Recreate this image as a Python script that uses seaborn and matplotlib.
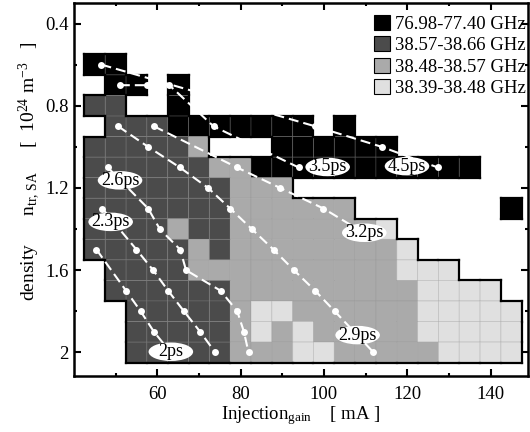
import numpy as np
import pandas as pd
import matplotlib
matplotlib.use("Agg")
import matplotlib.pyplot as plt
import seaborn as sns
from matplotlib.patches import Patch, Ellipse
from matplotlib.collections import LineCollection
from matplotlib.colors import ListedColormap, BoundaryNorm

# Cell centres: gain-section injection current (mA) and SA transparency density (1e24 m^-3)
injection_ma = [45, 50, 55, 60, 65, 70, 75, 80, 85, 90, 95, 100, 105,
                110, 115, 120, 125, 130, 135, 140, 145]
density = [0.6, 0.7, 0.8, 0.9, 1.0, 1.1, 1.2, 1.3, 1.4, 1.5, 1.6, 1.7, 1.8, 1.9, 2.0]

# Repetition-frequency class of every cell (0 = no mode locking)
freq_map = [
    [1, 1, 0, 0, 0, 0, 0, 0, 0, 0, 0, 0, 0, 0, 0, 0, 0, 0, 0, 0, 0],
    [0, 1, 1, 0, 1, 0, 0, 0, 0, 0, 0, 0, 0, 0, 0, 0, 0, 0, 0, 0, 0],
    [2, 2, 0, 0, 1, 0, 0, 0, 0, 0, 0, 0, 0, 0, 0, 0, 0, 0, 0, 0, 0],
    [0, 2, 2, 2, 1, 1, 1, 1, 1, 1, 1, 0, 1, 0, 0, 0, 0, 0, 0, 0, 0],
    [2, 2, 2, 2, 2, 3, 0, 0, 0, 1, 1, 1, 1, 1, 1, 0, 0, 0, 0, 0, 0],
    [2, 2, 2, 2, 2, 2, 3, 3, 1, 1, 1, 1, 1, 1, 1, 1, 1, 1, 1, 0, 0],
    [2, 2, 2, 2, 2, 2, 2, 3, 3, 3, 0, 0, 0, 0, 0, 0, 0, 0, 0, 0, 0],
    [2, 2, 2, 2, 2, 2, 2, 3, 3, 3, 3, 3, 3, 0, 0, 0, 0, 0, 0, 0, 1],
    [2, 2, 2, 2, 3, 2, 2, 3, 3, 3, 3, 3, 3, 3, 4, 0, 0, 0, 0, 0, 0],
    [2, 2, 2, 2, 2, 3, 2, 3, 3, 3, 3, 3, 3, 3, 3, 4, 0, 0, 0, 0, 0],
    [0, 2, 2, 2, 2, 3, 3, 3, 3, 3, 3, 3, 3, 3, 3, 4, 4, 4, 0, 0, 0],
    [0, 2, 2, 2, 2, 2, 2, 3, 3, 3, 3, 3, 3, 3, 3, 3, 4, 4, 4, 4, 0],
    [0, 0, 2, 2, 2, 2, 2, 3, 4, 4, 3, 3, 3, 3, 3, 3, 4, 4, 4, 4, 4],
    [0, 0, 2, 2, 2, 2, 2, 3, 4, 3, 4, 3, 3, 3, 3, 3, 4, 4, 4, 4, 4],
    [0, 0, 2, 2, 2, 2, 2, 3, 3, 3, 4, 4, 3, 3, 3, 3, 3, 4, 4, 4, 4],
]
freq_bands = ["76.98-77.40 GHz", "38.57-38.66 GHz", "38.48-38.57 GHz", "38.39-38.48 GHz"]
band_colors = ["#000000", "#4b4b4b", "#aaaaaa", "#e0e0e0"]

# Constant pulse-width contours
pw_labels = ["2ps", "2.3ps", "2.6ps", "2.9ps", "3.2ps", "3.5ps", "4.5ps"]
pw_current = [
    [45.4, 52.5, 56.0, 59.2, 63.2],
    [46.8, 55.0, 59.0, 62.6, 66.4, 70.3, 73.9],
    [48.1, 57.8, 60.6, 65.5, 66.9, 75.2, 79.2, 80.8, 81.9],
    [50.6, 57.8, 65.4, 72.2, 77.5, 82.7, 87.9, 92.8, 97.9, 102.6, 111.9],
    [59.2, 79.1, 89.5, 99.9, 109.7],
    [51.0, 57.5, 62.9, 73.5, 93.9],
    [46.6, 97.9, 113.9, 127.3],
]
pw_density = [
    [1.5, 1.7, 1.8, 1.9, 2.0],
    [1.3, 1.5, 1.6, 1.7, 1.8, 1.9, 2.0],
    [1.1, 1.3, 1.4, 1.5, 1.6, 1.7, 1.8, 1.9, 2.0],
    [0.9, 1.0, 1.1, 1.2, 1.3, 1.4, 1.5, 1.6, 1.7, 1.8, 2.0],
    [0.9, 1.1, 1.2, 1.3, 1.42],
    [0.7, 0.7, 0.7, 0.9, 1.1],
    [0.6, 0.9, 1.0, 1.1],
]
pw_label_current = [63.25, 48.8, 51.05, 108.1, 109.7, 100.9, 119.95]
pw_label_density = [1.997, 1.365, 1.163, 1.916, 1.418, 1.098, 1.094]

x_ticks = [60, 80, 100, 120, 140]
x_minor = [50, 70, 90, 110, 130]
y_ticks = [0.4, 0.8, 1.2, 1.6, 2.0]
y_tick_labels = ["0.4", "0.8", "1.2", "1.6", "2"]
y_minor = [0.6, 1.0, 1.4, 1.8]

sns.set_style("ticks")
plt.rcParams["font.family"] = ["Liberation Serif", "DejaVu Serif"]
plt.rcParams["mathtext.fontset"] = "custom"
plt.rcParams["mathtext.rm"] = "Liberation Serif"
plt.rcParams["mathtext.it"] = "Liberation Serif:italic"
for key in ["text.color", "axes.labelcolor", "xtick.color", "ytick.color", "axes.edgecolor"]:
    plt.rcParams[key] = "black"

fig = plt.figure(figsize=(5.3, 4.32), dpi=100)
ax = fig.add_axes([74 / 530, 56 / 432, 454 / 530, 373 / 432])

# Map cells
xc = np.asarray(injection_ma, float)
yc = np.asarray(density, float)
hx = (xc[1] - xc[0]) / 2
hy = (yc[1] - yc[0]) / 2
xe = np.append(xc - hx, xc[-1] + hx)
ye = np.append(yc - hy, yc[-1] + hy)
Z = np.asarray(freq_map, float)
Zm = np.ma.masked_where(Z == 0, Z)
cmap = ListedColormap(band_colors)
norm = BoundaryNorm([0.5, 1.5, 2.5, 3.5, 4.5], cmap.N)
ax.pcolor(xe, ye, Zm, cmap=cmap, norm=norm,
          edgecolors=(0.55, 0.55, 0.55, 0.3), linewidth=0.6, zorder=1)

# Outline of the mode-locked region
filled = Z > 0
ny, nx = Z.shape
segs = []
for i in range(ny):
    for j in range(nx):
        if not filled[i, j]:
            continue
        if i == 0 or not filled[i - 1, j]:
            segs.append([(xe[j], ye[i]), (xe[j + 1], ye[i])])
        if i == ny - 1 or not filled[i + 1, j]:
            segs.append([(xe[j], ye[i + 1]), (xe[j + 1], ye[i + 1])])
        if j == 0 or not filled[i, j - 1]:
            segs.append([(xe[j], ye[i]), (xe[j], ye[i + 1])])
        if j == nx - 1 or not filled[i, j + 1]:
            segs.append([(xe[j + 1], ye[i]), (xe[j + 1], ye[i + 1])])
ax.add_collection(LineCollection(segs, colors="black", linewidths=1.6,
                                 capstyle="projecting", zorder=2))

# Pulse-width contours
rows = []
for lab, xs, ys in zip(pw_labels, pw_current, pw_density):
    for a, b in zip(xs, ys):
        rows.append((lab, a, b))
df = pd.DataFrame(rows, columns=["pulse", "current", "density"])
n_before = len(ax.lines)
sns.lineplot(data=df, x="current", y="density", units="pulse", estimator=None,
             sort=False, color="white", marker="o", markersize=5.0,
             markeredgewidth=0, linewidth=1.5, legend=False, ax=ax, zorder=3)
for ln in ax.lines[n_before:]:
    ln.set_dashes([4.8, 2.4])

for lab, lx, ly in zip(pw_labels, pw_label_current, pw_label_density):
    ax.add_patch(Ellipse((lx, ly), 10.7, 0.09, facecolor="white",
                         edgecolor="none", zorder=4))
    ax.text(lx, ly, lab, ha="center", va="center", fontsize=13, zorder=5)

# Axes
ax.set_xlim(40, 149)
ax.set_ylim(2.115, 0.30)
ax.set_xticks(x_ticks)
ax.set_xticks(x_minor, minor=True)
ax.set_yticks(y_ticks)
ax.set_yticklabels(y_tick_labels)
ax.set_yticks(y_minor, minor=True)
ax.tick_params(which="both", direction="in", top=True, right=True,
               width=1.5, labelsize=13.5)
ax.tick_params(which="major", length=4.8)
ax.tick_params(which="minor", length=2.4)
ax.tick_params(axis="x", which="major", pad=7)
ax.tick_params(axis="y", which="major", pad=4)
for sp in ax.spines.values():
    sp.set_linewidth(1.8)
    sp.set_color("black")

ax.set_xlabel(r"Injection$_{\mathrm{gain}}$    [ mA ]", fontsize=13.5)
ax.set_ylabel(r"density      n$_{\mathrm{tr,\,SA}}$     [  10$^{24}$ m$^{-3}$   ]", fontsize=14)
ax.xaxis.set_label_coords(0.5, -0.075)
ax.yaxis.set_label_coords(-0.07, 0.55)

handles = [Patch(facecolor=c, edgecolor="black", linewidth=0.8) for c in band_colors]
ax.legend(handles, freq_bands, loc="upper right", bbox_to_anchor=(0.995, 0.968),
          frameon=False, fontsize=13.5, handlelength=0.85, handleheight=0.85,
          handletextpad=0.25, labelspacing=0.18, borderaxespad=0.0, borderpad=0.0)

fig.savefig("out.png", dpi=100)
